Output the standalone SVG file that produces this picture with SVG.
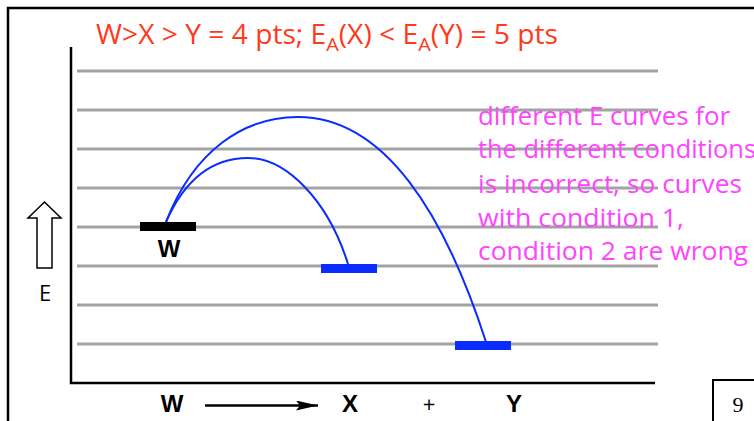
<svg xmlns="http://www.w3.org/2000/svg" width="754" height="421" viewBox="0 0 754 421">
<style>
.grid{stroke:#a3a3a3;stroke-width:3}
.ax{stroke:#000;stroke-width:2.5;fill:none}
.curve{stroke:#0a2cff;stroke-width:2;fill:none}
.t{font-family:"Open Sans","Liberation Sans",sans-serif}
.red{fill:#ff3a1c;font-size:27px}
.mag{fill:#ff44ff;font-size:25px}
.lab{font-family:"Liberation Sans",Arial,sans-serif;font-weight:bold;font-size:24px;fill:#000}
</style>
<defs>
<marker id="ah" markerWidth="22" markerHeight="10" refX="22" refY="5" orient="auto" markerUnits="userSpaceOnUse">
<path d="M0,0 L22,5 L0,10 L4,5 Z" fill="#000"/>
</marker>
</defs>
<rect width="754" height="421" fill="#fff"/>
<g id="frame">
<path d="M8,421 V8 H754" class="ax" stroke-width="3"/>
<path d="M713,421 V380 H754" stroke="#000" stroke-width="2" fill="none"/>
<text x="738" y="412" font-family="Liberation Serif,serif" font-size="22" text-anchor="middle">9</text>
</g>
<g id="grid">
<line class="grid" x1="77" y1="71" x2="658" y2="71"/>
<line class="grid" x1="77" y1="110" x2="658" y2="110"/>
<line class="grid" x1="77" y1="149" x2="658" y2="149"/>
<line class="grid" x1="77" y1="188" x2="658" y2="188"/>
<line class="grid" x1="77" y1="227" x2="658" y2="227"/>
<line class="grid" x1="77" y1="266" x2="658" y2="266"/>
<line class="grid" x1="77" y1="305" x2="658" y2="305"/>
<line class="grid" x1="77" y1="344" x2="658" y2="344"/>
</g>
<g id="axes">
<path d="M71,47 V383 H655" class="ax"/>
</g>
<g id="title">
<text class="t red" x="96" y="44" textLength="462" lengthAdjust="spacingAndGlyphs">W&gt;X &gt; Y = 4 pts; E<tspan font-size="19" dy="7">A</tspan><tspan dy="-7">(X) &lt; E</tspan><tspan font-size="19" dy="7">A</tspan><tspan dy="-7">(Y) = 5 pts</tspan></text>
</g>
<g id="energy-arrow">
<polygon points="44.5,202 61,218 52,218 52,268 37,268 37,218 28,218" fill="#fff" stroke="#000" stroke-width="1.5"/>
<text x="45" y="301" font-family="Open Sans,Liberation Sans,sans-serif" font-size="22" text-anchor="middle">E</text>
</g>
<g id="connectors">
<path class="curve" d="M166,222 C188,172 218,158 248,158 C286,158 328,200 348,264"/>
<path class="curve" d="M166,222 C194,150 244,117 298,117 C385,117 445,215 486,342"/>
</g>
<g id="W">
<rect x="140" y="222" width="56" height="9" fill="#000"/>
<text class="lab" x="169" y="257" text-anchor="middle" font-size="25">W</text>
</g>
<g id="X">
<rect x="321" y="264" width="56" height="9" fill="#0a2cff"/>
</g>
<g id="Y">
<rect x="455" y="341" width="56" height="9" fill="#0a2cff"/>
</g>
<g id="reaction">
<text class="lab" x="172" y="412" text-anchor="middle">W</text>
<line x1="205" y1="405.5" x2="318" y2="405.5" stroke="#000" stroke-width="2.5" marker-end="url(#ah)"/>
<text class="lab" x="350" y="412" text-anchor="middle">X</text>
<text x="429" y="412" font-family="Open Sans,Liberation Sans,sans-serif" font-size="22" text-anchor="middle">+</text>
<text class="lab" x="514" y="412" text-anchor="middle">Y</text>
</g>
<g id="note">
<text class="t mag" x="478" y="125" textLength="252" lengthAdjust="spacingAndGlyphs">different E curves for</text>
<text class="t mag" x="478" y="158" textLength="278" lengthAdjust="spacingAndGlyphs">the different conditions</text>
<text class="t mag" x="478" y="193" textLength="264" lengthAdjust="spacingAndGlyphs">is incorrect; so curves</text>
<text class="t mag" x="478" y="227" textLength="206" lengthAdjust="spacingAndGlyphs">with condition 1,</text>
<text class="t mag" x="478" y="260" textLength="270" lengthAdjust="spacingAndGlyphs">condition 2 are wrong</text>
</g>
</svg>
